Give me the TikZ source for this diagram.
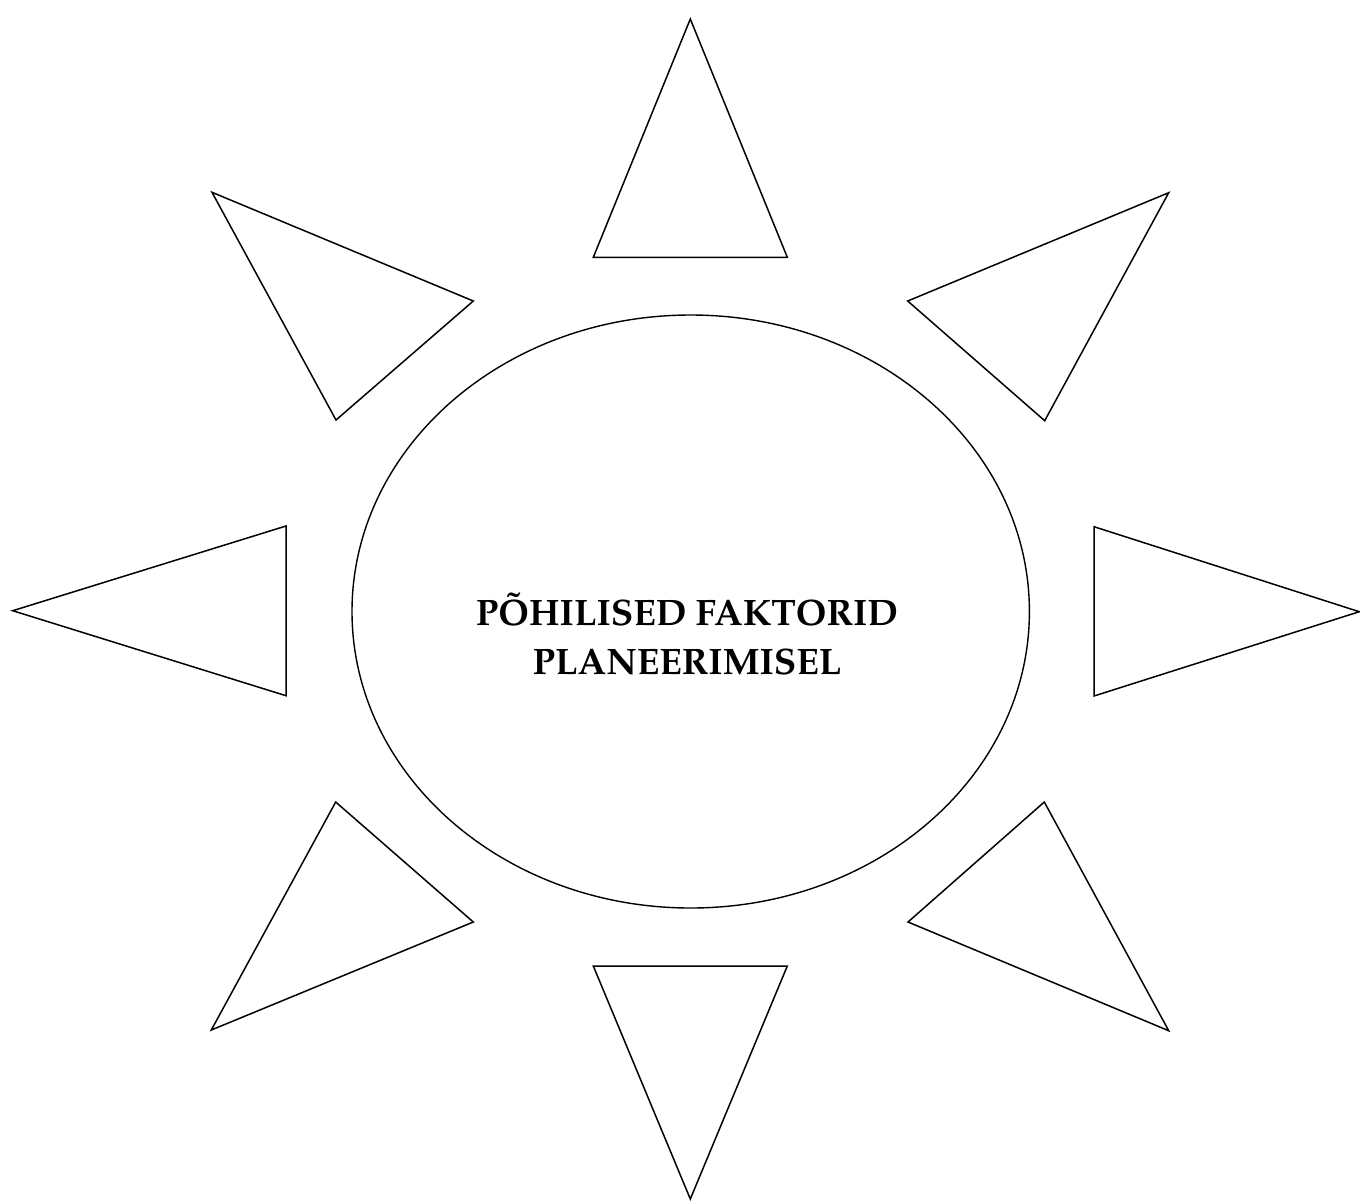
\documentclass[tikz,border=0pt]{standalone}
\usepackage[T1]{fontenc}
\usepackage{mathpazo}
\usetikzlibrary{shapes.geometric}

\begin{document}
\begin{tikzpicture}[
	x=0.5pt, y=-0.5pt,
	ray/.style={draw, line width=0.75pt, line join=miter},
	core/.style={ellipse, draw, line width=0.7pt, minimum width=338.7pt, minimum height=296.5pt, inner sep=0pt},
	caption/.style={align=center, font=\bfseries\fontsize{18.4}{24.4}\selectfont}
]
	\useasboundingbox (0,0) rectangle (1360,1201);

	\node[core] (sun) at (690.7,611.5) {};
	\node[caption] (title) at (687,634) {PÕHILISED FAKTORID\\PLANEERIMISEL};

	% rays
	\draw[ray] (690.3,19) -- (787.3,257.3) -- (593.3,257.3) -- cycle;
	\draw[ray] (1168.7,192.7) -- (1044.7,420.7) -- (907.7,301) -- cycle;
	\draw[ray] (1359.3,611.7) -- (1094,696) -- (1094,526.7) -- cycle;
	\draw[ray] (1168.7,1030.7) -- (908,922) -- (1044.3,802) -- cycle;
	\draw[ray] (690.3,1199) -- (593.3,966) -- (787.3,966) -- cycle;
	\draw[ray] (211.3,1030) -- (335.7,802) -- (473.3,922) -- cycle;
	\draw[ray] (12.7,610.7) -- (286,526) -- (286,695.7) -- cycle;
	\draw[ray] (212,192.3) -- (473.3,301) -- (336,420) -- cycle;
\end{tikzpicture}
\end{document}
